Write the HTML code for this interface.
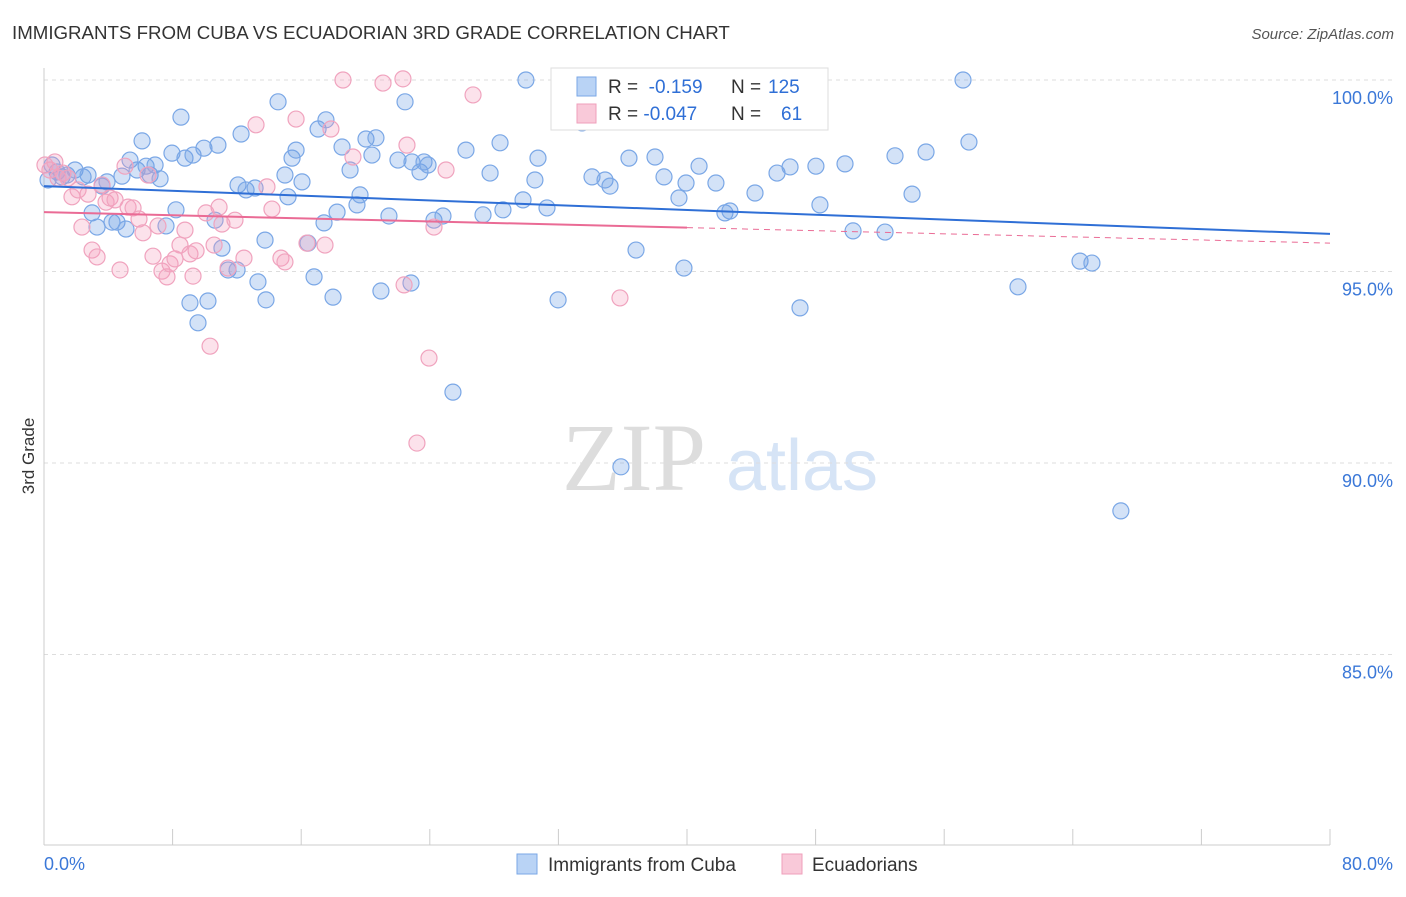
<!DOCTYPE html>
<html><head><meta charset="utf-8">
<style>
body{margin:0;background:#fff;font-family:"Liberation Sans",sans-serif;}
svg text{font-family:"Liberation Sans",sans-serif;}
</style></head>
<body>
<svg id="chart" width="1406" height="892" xmlns="http://www.w3.org/2000/svg">
<text x="12" y="39" font-size="18.7" fill="#333">IMMIGRANTS FROM CUBA VS ECUADORIAN 3RD GRADE CORRELATION CHART</text>
<text x="1394" y="39" font-size="15" fill="#555" font-style="italic" text-anchor="end">Source: ZipAtlas.com</text>
<text x="34" y="456" font-size="17" fill="#333" transform="rotate(-90 34 456)" text-anchor="middle">3rd Grade</text>
<g>
<text x="634" y="490" font-size="96" fill="#ddd" font-family="Liberation Serif" text-anchor="middle" style="font-family:'Liberation Serif',serif">ZIP</text>
<text x="802" y="490" font-size="72" fill="#d6e4f6" text-anchor="middle">atlas</text>
</g>
<g id="grid"></g>
<g id="axes"></g>
<g id="pts"></g>
<g id="lines"></g>
<g>
<rect x="551" y="68" width="277" height="62" fill="#fff" stroke="#ddd"/>
<rect x="577" y="77" width="19" height="19" fill="#b9d3f5" stroke="#7aa7e6"/>
<rect x="577" y="104" width="19" height="19" fill="#f9c9d9" stroke="#ef9fbb"/>
<text x="608" y="93" font-size="19" fill="#333">R = <tspan fill="#2f6fd6">&#160;-0.159</tspan><tspan x="731">N = </tspan><tspan fill="#2f6fd6" x="768">125</tspan></text>
<text x="608" y="120" font-size="19" fill="#333">R = <tspan fill="#2f6fd6">-0.047</tspan><tspan x="731">N = </tspan><tspan fill="#2f6fd6" x="781">61</tspan></text>
</g>
<g>
<rect x="517" y="854" width="20" height="20" fill="#b9d3f5" stroke="#7aa7e6"/>
<text x="548" y="871" font-size="19" fill="#333">Immigrants from Cuba</text>
<rect x="782" y="854" width="20" height="20" fill="#f9c9d9" stroke="#ef9fbb"/>
<text x="812" y="871" font-size="19" fill="#333">Ecuadorians</text>
</g>
</svg>
<script>
const yTicks=[100,95,90,85];
const yTickLabels=["100.0%","95.0%","90.0%","85.0%"];
const xEndLabels=["0.0%","80.0%"];
const cubaX=[.25,.5,.81,1.12,1.43,1.93,2.43,2.74,2.99,3.3,3.61,3.92,4.23,4.54,4.85,5.1,5.35,5.79,6.1,6.35,6.6,6.91,7.22,7.59,7.96,8.21,8.52,8.77,9.08,9.27,9.58,9.95,10.2,10.64,10.82,11.07,11.45,12.01,12.07,12.26,12.57,13.13,13.31,13.75,13.81,14.56,14.99,15.18,15.43,15.68,16.05,16.42,16.8,17.05,17.42,17.54,17.98,18.23,18.54,19.04,19.47,19.66,20.03,20.4,20.65,20.96,21.46,22.02,22.46,22.83,22.89,23.39,23.64,23.89,24.26,24.82,25.44,26.25,27.31,27.75,28.37,28.55,29.8,29.98,30.54,30.73,31.29,31.98,33.47,34.09,34.9,35.21,35.89,36.39,36.83,38.01,38.57,39.5,39.81,39.94,40.75,41.8,42.36,42.67,44.23,45.6,46.41,47.03,48.02,48.27,49.83,50.33,52.32,52.94,54,54.87,57.17,57.54,60.59,64.45,65.19,66.99];
const cubaY=[97.39,97.78,97.6,97.47,97.52,97.65,97.47,97.52,96.53,96.16,97.23,97.34,96.29,96.29,97.49,96.11,97.91,97.65,98.41,97.75,97.52,97.78,97.42,96.19,98.09,96.61,99.03,97.96,94.18,98.04,93.66,98.22,94.23,96.34,98.3,95.61,95.04,95.04,97.26,98.59,97.13,97.18,94.73,95.82,94.26,99.43,97.52,96.95,97.96,98.17,97.34,95.74,94.86,98.72,96.27,98.96,94.33,96.55,98.25,97.65,96.74,97,98.46,98.04,98.49,94.49,96.45,97.91,99.43,94.7,97.86,97.6,97.86,97.78,96.34,96.45,91.85,98.17,96.48,97.57,98.36,96.61,96.87,100,97.39,97.96,96.66,94.26,98.88,97.47,97.39,97.23,89.9,97.96,95.56,97.99,97.47,96.92,95.09,97.31,97.75,97.31,96.53,96.58,97.05,97.57,97.73,94.05,97.75,96.74,97.81,96.06,96.03,98.02,97.02,98.12,100,98.38,94.6,95.27,95.22,88.75];
const ecuX=[.06,.37,.68,.87,1.18,1.49,1.74,2.12,2.36,2.74,2.99,3.3,3.61,3.86,4.11,4.42,4.73,5.04,5.23,5.54,5.91,6.16,6.47,6.78,7.09,7.34,7.65,7.84,8.15,8.46,8.77,9.08,9.27,9.46,10.08,10.33,10.58,10.89,11.07,11.45,11.88,12.44,13.19,13.87,14.18,14.74,14.99,15.68,16.36,17.48,17.85,18.6,19.22,21.09,22.33,22.4,22.58,23.2,23.95,24.26,25.01,26.69,35.83];
const ecuY=[97.78,97.65,97.86,97.44,97.57,97.44,96.95,97.13,96.16,97.02,95.56,95.38,97.26,96.81,96.92,96.87,95.04,97.75,96.68,96.66,96.37,96.01,97.52,95.4,96.19,95.01,94.86,95.2,95.33,95.69,96.08,95.46,94.88,95.54,96.53,93.05,95.69,96.68,96.24,95.09,96.34,95.35,98.83,97.21,96.63,95.35,95.25,98.98,95.74,95.69,98.72,100,97.99,99.92,100.03,94.65,98.3,90.52,92.74,96.16,97.65,99.61,94.31];
const cubaFit=[97.23,-0.0156];
const ecuFit=[96.55,-0.0101];
const ecuSolidMax=40;

const X0=44,X1=1330;
const xs=v=>X0+(v/80)*(X1-X0);
const ys=v=>80+(100-v)*38.3;
const NS="http://www.w3.org/2000/svg";
function mk(tag,attrs,parent){const e=document.createElementNS(NS,tag);for(const k in attrs)e.setAttribute(k,attrs[k]);document.getElementById(parent).appendChild(e);return e;}

yTicks.forEach((t,i)=>{
  const g=mk('line',{x1:X0,x2:1394,y1:ys(t),y2:ys(t),stroke:'#ddd','stroke-dasharray':'4,4'},'grid');
  
  
  const tx=mk('text',{x:1393,y:ys(t)+24,'font-size':18,fill:'#3b78d8','text-anchor':'end'},'grid');
  tx.textContent=yTickLabels[i];
  
  
});
const la=mk('line',{x1:X0,x2:X0,y1:68,y2:845,stroke:'#ccc'},'axes');


const lb=mk('line',{x1:X0,x2:X1,y1:845,y2:845,stroke:'#ccc'},'axes');


for(let i=0;i<=10;i++){
  const t=mk('line',{x1:xs(i*8),x2:xs(i*8),y1:829,y2:845,stroke:'#ccc'},'axes');
  
  
}
const xl0=mk('text',{x:44,y:870,'font-size':18,fill:'#3b78d8'},'axes');
xl0.textContent=xEndLabels[0];


const xl1=mk('text',{x:1393,y:870,'font-size':18,fill:'#3b78d8','text-anchor':'end'},'axes');
xl1.textContent=xEndLabels[1];



cubaX.forEach((v,i)=>{
  const c=mk('circle',{cx:xs(v),cy:ys(cubaY[i]),r:8,fill:'rgba(110,160,230,0.3)',stroke:'#7aa7e6','stroke-width':1.2},'pts');
  
  
});
ecuX.forEach((v,i)=>{
  const c=mk('circle',{cx:xs(v),cy:ys(ecuY[i]),r:8,fill:'rgba(245,160,190,0.3)',stroke:'#f0a3be','stroke-width':1.2},'pts');
  
  
});
const f=(fit,x)=>fit[0]+fit[1]*x;
const rl=mk('line',{x1:xs(0),y1:ys(f(cubaFit,0)),x2:xs(80),y2:ys(f(cubaFit,80)),stroke:'#2f6fd6','stroke-width':2},'lines');


const pl=mk('line',{x1:xs(0),y1:ys(f(ecuFit,0)),x2:xs(ecuSolidMax),y2:ys(f(ecuFit,ecuSolidMax)),stroke:'#ea6b95','stroke-width':2},'lines');


const pd=mk('line',{x1:xs(ecuSolidMax),y1:ys(f(ecuFit,ecuSolidMax)),x2:xs(80),y2:ys(f(ecuFit,80)),stroke:'#ea6b95','stroke-width':1,'stroke-dasharray':'6,5'},'lines');


</script>
</body></html>
